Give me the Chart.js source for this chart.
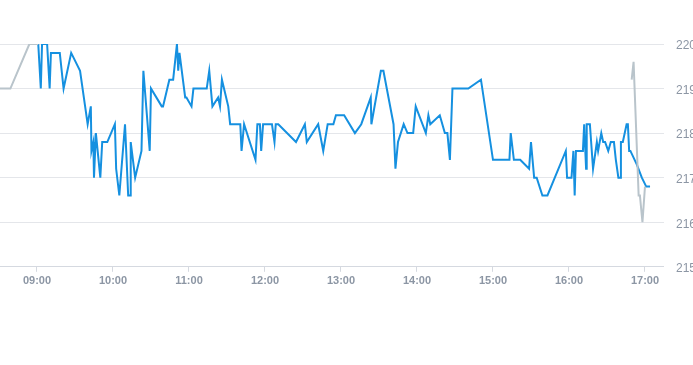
<!DOCTYPE html>
<html>
<head>
<meta charset="utf-8">
<script src="https://cdn.jsdelivr.net/npm/chart.js@4.4.1/dist/chart.umd.min.js"></script>
<style>
  html, body { margin: 0; padding: 0; background: #fff; overflow: hidden; }
  canvas { display: block; }
</style>
</head>
<body>
<canvas id="priceChart" width="708" height="365"></canvas>
<script>
// intraday trade prices
var tradeTimes = ["09:01","09:03","09:04","09:08","09:10","09:11","09:18","09:21","09:27","09:34",
  "09:38","09:40","09:42:30","09:43","09:44:30","09:45","09:46:30","09:50","09:51:30","09:55:30",
  "10:01:30","10:02:30","10:05","10:09:30","10:12","10:13:30","10:14","10:17:30","10:22:30","10:24",
  "10:29","10:30","10:38:30","10:39:30","10:44:30","10:47:30","10:50:30","10:51:30","10:52:30","10:57",
  "10:58","11:02","11:03:30","11:14","11:16","11:18:30","11:23","11:24:30","11:26","11:31",
  "11:32:30","11:40:30","11:41:30","11:43:30","11:52:30","11:54","11:56","11:57","11:58:30","12:05:30",
  "12:07:30","12:08:30","12:10:30","12:24:30","12:31:30","12:33","12:42","12:46","12:49:30","12:54",
  "12:56","13:02:30","13:11","13:16","13:23:30","13:24","13:31:30","13:33:30","13:41:30","13:43",
  "13:45","13:49:30","13:52:30","13:57","13:59","14:07","14:09","14:10:30","14:18","14:22",
  "14:24","14:26","14:28","14:40:30","14:50:30","15:00","15:13","15:14","15:16:30","15:21:30",
  "15:28:30","15:30","15:32:30","15:34:30","15:39","15:43","15:57:30","15:58:30","16:02","16:03:30",
  "16:04:30","16:05:30","16:11","16:12","16:13:30","16:14","16:16:30","16:19","16:22","16:23",
  "16:25:30","16:27","16:28:30","16:31","16:33","16:35:30","16:37","16:39","16:40:30","16:41",
  "16:42:30","16:45:30","16:46:30","16:47:30","16:48:30","16:53:30","16:57:30","17:01","17:04"];
var tradePrices = [220,219,220,220,219,219.8,219.8,219,219.8,219.4,
  218.6,218.2,218.6,217.6,217.8,217,218,217,217.8,217.8,
  218.2,217.2,216.6,218.2,216.6,216.6,217.8,217,217.6,219.4,
  217.6,219,218.6,218.6,219.2,219.2,220,219.4,219.8,218.8,
  218.8,218.6,219,219,219.4,218.6,218.8,218.6,219.2,218.6,
  218.2,218.2,217.6,218.2,217.4,218.2,218.2,217.6,218.2,218.2,
  217.8,218.2,218.2,217.8,218.2,217.8,218.2,217.6,218.2,218.2,
  218.4,218.4,218,218.2,218.8,218.2,219.4,219.4,218.2,217.2,
  217.8,218.2,218,218,218.6,218,218.4,218.2,218.4,218,
  218,217.4,219,219,219.2,217.4,217.4,218,217.4,217.4,
  217.2,217.8,217,217,216.6,216.6,217.6,217,217,217.6,
  216.6,217.6,217.6,218.2,217.2,218.2,218.2,217.2,217.8,217.6,
  218,217.8,217.8,217.6,217.8,217.8,217.4,217,217,217.8,
  217.8,218.2,218.2,217.6,217.6,217.3,217,216.8,216.8];

// pre-market and closing auction
var preTimes = ["08:30","08:39","08:54","09:01"];
var prePrices = [219,219,220,220];
var postTimes = ["16:49:30","16:51","16:55","16:56","16:58","17:00"];
var postPrices = [219.2,219.6,216.6,216.6,216,216.8];

var yTicks = [215,216,217,218,219,220];

function toMinutes(t) {
  var p = t.split(":");
  var m = parseInt(p[0]) * 60 + parseInt(p[1]);
  if (p.length > 2) m += parseInt(p[2]) / 60;
  return m;
}

function toPoints(times, values) {
  var pts = [];
  for (var i = 0; i < times.length; i++) {
    pts.push({ x: toMinutes(times[i]), y: values[i] });
  }
  return pts;
}

function pad(n) {
  return (n < 10 ? "0" : "") + n;
}

var grey = "#b9c4cb";
var blue = "#1590e0";

var ctx = document.getElementById("priceChart").getContext("2d");
var myChart = new Chart(ctx, {
  type: "line",
  data: {
    datasets: [{
      data: toPoints(postTimes, postPrices),
      borderColor: grey,
      borderWidth: 2,
      pointRadius: 0,
      tension: 0
    }, {
      data: toPoints(preTimes, prePrices),
      borderColor: grey,
      borderWidth: 2,
      pointRadius: 0,
      tension: 0
    }, {
      data: toPoints(tradeTimes, tradePrices),
      borderColor: blue,
      borderWidth: 2,
      pointRadius: 0,
      tension: 0
    }]
  },
  options: {
    responsive: false,
    animation: false,
    layout: {
      padding: { top: 44, right: 0, bottom: 74, left: 0 }
    },
    plugins: {
      legend: { display: false },
      tooltip: { enabled: false }
    },
    scales: {
      x: {
        type: "linear",
        min: 510.8,
        max: 1035,
        grid: {
          drawOnChartArea: false,
          drawTicks: true,
          tickLength: 5,
          color: "#d5d9e0"
        },
        border: { color: "#d5d9e0" },
        ticks: {
          stepSize: 60,
          includeBounds: false,
          maxRotation: 0,
          padding: 3,
          color: "#8c96a4",
          font: { family: "Liberation Sans", size: 11, weight: "bold" },
          callback: function(v) {
            return pad(Math.floor(v / 60)) + ":" + pad(v % 60);
          }
        }
      },
      y: {
        position: "right",
        min: yTicks[0],
        max: yTicks[yTicks.length - 1],
        afterBuildTicks: function(axis) {
          axis.ticks = yTicks.map(function(v) { return { value: v }; });
        },
        grid: {
          color: "#e4e6ea",
          drawTicks: false
        },
        border: { display: false },
        ticks: {
          padding: 12,
          labelOffset: 2,
          color: "#8c96a4",
          font: { family: "Liberation Sans", size: 12 }
        }
      }
    }
  }
});
</script>
</body>
</html>
